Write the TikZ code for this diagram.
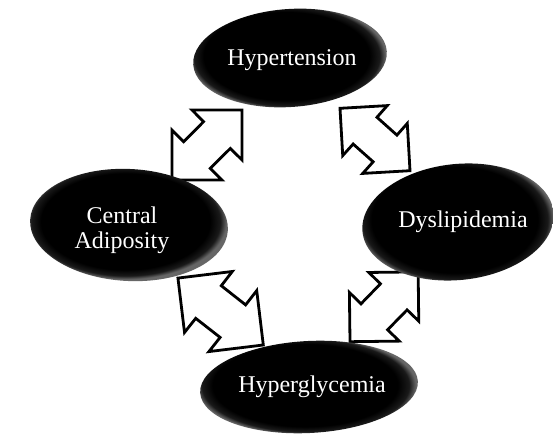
\documentclass[tikz,border=0pt]{standalone}
\usepackage{fontspec}
\setmainfont{Liberation Serif}
\usetikzlibrary{shapes.geometric}
\pgfdeclareradialshading{gloss}{\pgfpoint{-1.5bp}{1.5bp}}{color(0bp)=(black); color(21bp)=(black); color(23.5bp)=(black!90!white); color(25bp)=(black!60!white); color(50bp)=(black!60!white)}
\tikzset{
  ell/.style={ellipse, shade, shading=gloss, inner sep=0pt},
  lbl/.style={text=white, font=\fontsize{24}{25}\selectfont, align=center, inner sep=0pt},
  arrowbox/.style={draw=black, fill=white, line width=2.8pt, line join=miter},
  dbl/.pic={\path[arrowbox] (0,0)--(0,.714)--(.166,.547)--(.451,.833)--(.286,1)--(1,1)--(1,.286)--(.833,.451)--(.547,.166)--(.714,0)--cycle;}
}
\begin{document}
\begin{tikzpicture}[x=1pt,y=1pt]
\useasboundingbox[fill=white] (0,0) rectangle (553,436);
% arrow tip coordinates
\coordinate (a1) at (172,256);
\coordinate (a2) at (410,265.3);
\coordinate (a3) at (263.3,91);
\coordinate (a4) at (350,94.3);
\pic[scale=70] at (a1) {dbl};
\pic[rotate=3.3, xscale=-1, scale=66.3] at (a2) {dbl};
\pic[rotate=6.9, xscale=-1, scale=76.7] at (a3) {dbl};
\pic[rotate=0.7, scale=69] at (a4) {dbl};
% ellipses
\node[ell, rotate=4, minimum width=194pt, minimum height=98pt] (ht) at (290,378) {};
\node[ell, rotate=-3, minimum width=198pt, minimum height=112pt] (ca) at (129,211) {};
\node[ell, rotate=6, minimum width=192pt, minimum height=116pt] (dy) at (458,214) {};
\node[ell, rotate=3, minimum width=218pt, minimum height=92pt] (hg) at (309,49) {};
% labels
\node[lbl] (tht) at ([xshift=2pt,yshift=-2pt]ht.center) {Hypertension};
\node[lbl] (tca) at ([xshift=-7pt,yshift=-5pt]ca.center) {Central\\Adiposity};
\node[lbl] (tdy) at ([xshift=5pt]dy.center) {Dyslipidemia};
\node[lbl] (thg) at ([xshift=3pt]hg.center) {Hyperglycemia};
\end{tikzpicture}
\end{document}
